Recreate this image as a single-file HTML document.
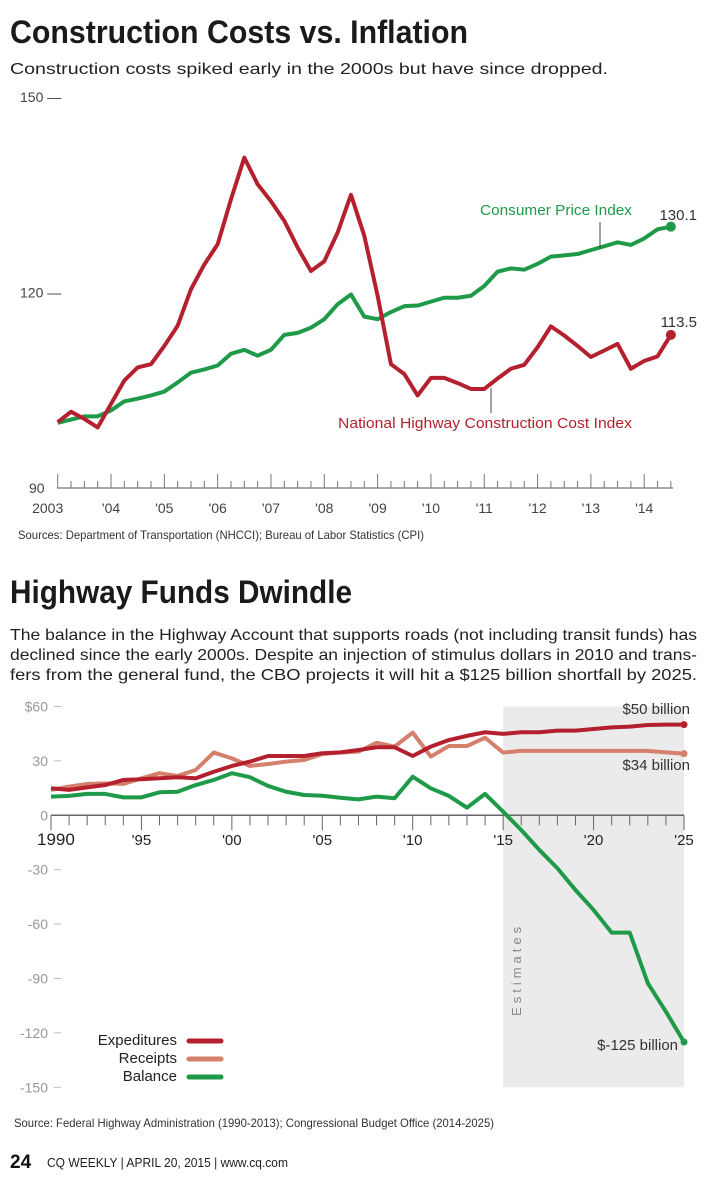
<!DOCTYPE html>
<html><head><meta charset="utf-8"><style>
html,body{margin:0;padding:0;background:#fff;}
svg{display:block;font-family:"Liberation Sans Narrow","Liberation Sans",sans-serif;}
</style></head><body>
<svg id="root" width="708" height="1200" viewBox="0 0 708 1200">
<text x="10" y="43" font-size="32" font-weight="bold" fill="#1a1a1a" textLength="458" lengthAdjust="spacingAndGlyphs">Construction Costs vs. Inflation</text>
<text x="10" y="74" font-size="16" fill="#222" textLength="598" lengthAdjust="spacingAndGlyphs">Construction costs spiked early in the 2000s but have since dropped.</text>
<g id="c1"></g>
<text x="18" y="539" font-size="12" fill="#333" textLength="406" lengthAdjust="spacingAndGlyphs">Sources: Department of Transportation (NHCCI); Bureau of Labor Statistics (CPI)</text>

<text x="10" y="603" font-size="32" font-weight="bold" fill="#1a1a1a" textLength="342" lengthAdjust="spacingAndGlyphs">Highway Funds Dwindle</text>
<g font-size="16" fill="#222">
<text x="10" y="640" textLength="687" lengthAdjust="spacingAndGlyphs">The balance in the Highway Account that supports roads (not including transit funds) has</text>
<text x="10" y="660" textLength="687" lengthAdjust="spacingAndGlyphs">declined since the early 2000s. Despite an injection of stimulus dollars in 2010 and trans-</text>
<text x="10" y="680" textLength="687" lengthAdjust="spacingAndGlyphs">fers from the general fund, the CBO projects it will hit a $125 billion shortfall by 2025.</text>
</g>
<g id="c2"></g>
<text x="14" y="1127" font-size="12" fill="#333" textLength="480" lengthAdjust="spacingAndGlyphs">Source: Federal Highway Administration (1990-2013); Congressional Budget Office (2014-2025)</text>
<text x="10" y="1168" font-size="19" font-weight="bold" fill="#111">24</text>
<text x="47" y="1167" font-size="13" fill="#222" textLength="241" lengthAdjust="spacingAndGlyphs">CQ WEEKLY  |  APRIL 20, 2015  |  www.cq.com</text>
</svg>
<script>
const NS="http://www.w3.org/2000/svg";
// ---- Chart 1 data (quarterly, 2003 Q1 .. 2014 Q3) ----
const c1YTicks=[150,120,90];
const c1XLabels=["2003","'04","'05","'06","'07","'08","'09","'10","'11","'12","'13","'14"];
const nhcci=[100.1,101.7,100.6,99.3,102.9,106.5,108.5,109,111.8,114.9,120.5,124.3,127.4,134.3,140.7,136.6,134,131,126.9,123.3,124.8,129.2,135,128.7,119.5,109,107.5,104.2,106.9,106.9,106.1,105.2,105.2,106.8,108.3,108.9,111.6,114.8,113.4,111.8,110.1,111.1,112.1,108.3,109.5,110.2,113.5];
const cpi=[100,100.5,101,101,101.9,103.3,103.7,104.2,104.8,106.2,107.7,108.2,108.8,110.6,111.2,110.3,111.2,113.5,113.8,114.6,115.9,118.2,119.7,116.3,115.9,117,117.9,118,118.6,119.2,119.2,119.5,121,123.2,123.7,123.5,124.4,125.5,125.7,125.9,126.5,127.1,127.7,127.3,128.3,129.7,130.1];
// ---- Chart 2 data (annual 1990..2025) ----
const c2Years=[];for(let y=1990;y<=2025;y++)c2Years.push(y);
const c2YTicks=[60,30,0,-30,-60,-90,-120,-150];
const c2XLabels=["1990","'95","'00","'05","'10","'15","'20","'25"];
const expenditures=[14.9,14,15.4,16.7,19.5,19.9,20.4,21,20.4,24,27.2,29.6,32.7,32.7,32.7,34.2,34.7,36,37.5,37.5,32.7,37.9,41.5,43.8,45.8,44.9,45.8,45.8,46.7,46.7,47.6,48.5,48.9,49.8,50,50];
const receipts=[14,15.8,17.3,17.6,17.3,20.4,23.2,21.7,25,34.6,31.4,27.2,28.3,29.6,30.5,33.8,34.6,35.1,40,37.9,45.6,32.4,38.2,38.2,42.8,34.6,35.5,35.5,35.5,35.5,35.5,35.5,35.5,35.5,34.7,34];
const balance=[10.3,10.7,11.8,11.8,9.9,9.9,12.7,13,16.7,19.5,23.2,21,16.2,13,11.2,10.8,9.7,8.8,10.3,9.4,21.3,14.9,10.7,4.2,11.8,2,-8.1,-19.1,-29.2,-41.2,-52.2,-64.7,-64.7,-92.6,-108.3,-125];

function mk(parent,tag,attrs,text){const e=document.createElementNS(NS,tag);for(const k in attrs)e.setAttribute(k,attrs[k]);if(text!==undefined)e.textContent=text;parent.appendChild(e);return e;}

// Chart 1 scales
const x1=q=>57.7+q*13.33;
const y1=v=>488-(v-90)*(391/60);
const g1=document.getElementById('c1');
c1YTicks.forEach((v,i)=>{
  const t=mk(g1,'text',{x:v===90?29:20,y:y1(v)+5,'font-size':14,fill:'#444'},v===90?"90":v+" \u2014");
  
  
});
const ax=mk(g1,'line',{x1:57,x2:673,y1:488,y2:488,stroke:'#777','stroke-width':1.3});


for(let q=0;q<=46;q++){
  const tk=mk(g1,'line',{x1:x1(q),x2:x1(q),y1:488,y2:q%4===0?474:481,stroke:'#777','stroke-width':1});
  
  
}
c1XLabels.forEach((l,i)=>{
  const t=mk(g1,'text',{x:i===0?x1(0)-10:x1(i*4),y:513,'font-size':14,fill:'#444','text-anchor':'middle'},l);
  
  
});
function line1(data,color,name){
  const p=mk(g1,'polyline',{points:data.map((v,i)=>x1(i)+","+y1(v)).join(" "),fill:'none',stroke:color,'stroke-width':4,'stroke-linejoin':'round'});
  
  
  const c=mk(g1,'circle',{cx:x1(data.length-1),cy:y1(data[data.length-1]),r:5,fill:color});
  
  
}
line1(cpi,'#1e9a48','cpi-line');
line1(nhcci,'#b5202e','nhcci-line');
let t;
t=mk(g1,'text',{x:480,y:215,'font-size':15,fill:'#1e9a48',textLength:152,lengthAdjust:'spacingAndGlyphs'},"Consumer Price Index");


t=mk(g1,'line',{x1:600,x2:600,y1:222,y2:248,stroke:'#444','stroke-width':1});


t=mk(g1,'text',{x:697,y:220,'font-size':15,fill:'#333','text-anchor':'end'},String(cpi[cpi.length-1].toFixed(1)));


t=mk(g1,'text',{x:338,y:428,'font-size':15,fill:'#b5202e',textLength:294,lengthAdjust:'spacingAndGlyphs'},"National Highway Construction Cost Index");


t=mk(g1,'line',{x1:491,x2:491,y1:388,y2:413,stroke:'#444','stroke-width':1});


t=mk(g1,'text',{x:697,y:327,'font-size':15,fill:'#333','text-anchor':'end'},String(nhcci[nhcci.length-1].toFixed(1)));



// Chart 2 scales
const x2=yr=>51+(yr-1990)*(633/35);
const y2=v=>815.3-v*(272/150);
const g2=document.getElementById('c2');
t=mk(g2,'rect',{x:x2(2015),y:y2(60),width:x2(2025)-x2(2015),height:y2(-150)-y2(60),fill:'#ebebeb'});


t=mk(g2,'text',{x:0,y:0,'font-size':13,fill:'#888','letter-spacing':4,transform:`translate(${x2(2015)+18},${y2(-85)}) rotate(-90)`,'text-anchor':'middle'},"Estimates");


c2YTicks.forEach(v=>{
  const tl=mk(g2,'text',{x:48,y:y2(v)+5,'font-size':14,fill:'#999','text-anchor':'end'},v===60?"$60":String(v));
  
  
  const tk=mk(g2,'line',{x1:54,x2:61,y1:y2(v),y2:y2(v),stroke:'#bbb','stroke-width':1});
  
  
});
t=mk(g2,'line',{x1:x2(1990),x2:x2(2025),y1:y2(0),y2:y2(0),stroke:'#666','stroke-width':1.5});


c2Years.forEach(yr=>{
  const tk=mk(g2,'line',{x1:x2(yr),x2:x2(yr),y1:y2(0),y2:y2(0)+(yr%5===0?15:10),stroke:'#666','stroke-width':1});
  
  
});
c2XLabels.forEach((l,i)=>{
  const yr=1990+i*5;
  const tl=mk(g2,'text',{x:i===0?x2(yr)-14:x2(yr),y:845,'font-size':i===0?17:15,fill:'#222','text-anchor':i===0?'start':'middle'},l);
  
  
});
function line2(data,color,name){
  const p=mk(g2,'polyline',{points:data.map((v,i)=>x2(c2Years[i])+","+y2(v)).join(" "),fill:'none',stroke:color,'stroke-width':4,'stroke-linejoin':'round'});
  
  
  const c=mk(g2,'circle',{cx:x2(2025),cy:y2(data[data.length-1]),r:3.5,fill:color});
  
  
}
line2(balance,'#1e9a48','balance-line');
line2(receipts,'#d4806c','receipts-line');
line2(expenditures,'#b5202e','expenditures-line');
t=mk(g2,'text',{x:690,y:714,'font-size':15,fill:'#333','text-anchor':'end'},"$"+Math.round(expenditures[expenditures.length-1])+" billion");


t=mk(g2,'text',{x:690,y:770,'font-size':15,fill:'#333','text-anchor':'end'},"$"+Math.round(receipts[receipts.length-1])+" billion");


t=mk(g2,'text',{x:678,y:1050,'font-size':15,fill:'#333','text-anchor':'end'},"$"+Math.round(balance[balance.length-1])+" billion");


[["Expeditures","#b5202e",1045],["Receipts","#d4806c",1063],["Balance","#1e9a48",1081]].forEach(([n,c,y])=>{
  const tl=mk(g2,'text',{x:177,y:y,'font-size':15,fill:'#222','text-anchor':'end'},n);
  
  
  const sw=mk(g2,'line',{x1:189,x2:221,y1:y-4,y2:y-4,stroke:c,'stroke-width':5,'stroke-linecap':'round'});
  
  
});
</script>
</body></html>
